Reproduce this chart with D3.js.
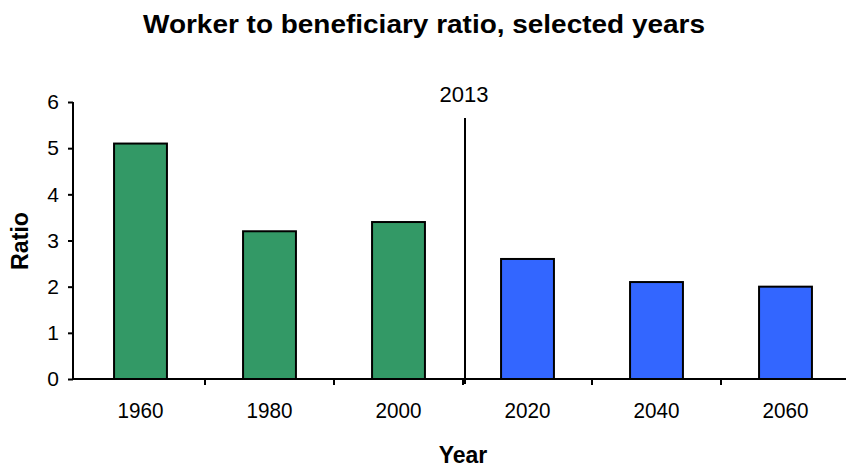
<!DOCTYPE html>
<html>
<head>
<meta charset="utf-8">
<script src="https://cdn.jsdelivr.net/npm/d3@7"></script>
<style>
    body { margin: 0; background: #fff; }
    text { font-family: "Liberation Sans", Arial, sans-serif; fill: #000; }
</style>
</head>
<body>
<script>
// Chart data
var years = ["1960", "1980", "2000", "2020", "2040", "2060"];
var ratios = [5.1, 3.2, 3.4, 2.6, 2.1, 2.0];
var projected = [false, false, false, true, true, true];
var yTicks = [0, 1, 2, 3, 4, 5, 6];
var markerLabel = "2013";

var svgWidth = 846;
var svgHeight = 470;

const svg = d3.select("body").append("svg")
    .attr("width", svgWidth)
    .attr("height", svgHeight);

// Scaling function for x values
const xScale = d3.scaleBand()
    .range([76, 850])
    .domain(years)
    .paddingInner(0.59)
    .paddingOuter(0.295);

// Scaling function for y values
const yScale = d3.scaleLinear()
    .range([379, 102])
    .domain([0, 6]);

// Title
svg.append("text")
    .attr("x", 424)
    .attr("y", 33)
    .attr("text-anchor", "middle")
    .attr("font-size", 26)
    .attr("font-weight", "bold")
    .attr("textLength", 562)
    .attr("lengthAdjust", "spacingAndGlyphs")
    .text("Worker to beneficiary ratio, selected years");

// Bars
svg.selectAll(".bar")
    .data(years.map(function(y, i) { return {year: y, value: ratios[i], proj: projected[i]}; }))
    .enter()
    .append("rect")
    .attr("class", "bar")
    .attr("x", function(d) { return xScale(d.year); })
    .attr("y", function(d) { return yScale(d.value); })
    .attr("width", xScale.bandwidth())
    .attr("height", function(d) { return yScale(0) - yScale(d.value); })
    .attr("fill", function(d) { return d.proj ? "#3366ff" : "#339966"; })
    .attr("stroke", "#000")
    .attr("stroke-width", 2);

// Y axis
const yAxis = svg.append("g")
    .attr("transform", "translate(73, 0)")
    .call(d3.axisLeft(yScale).tickValues(yTicks).tickSize(5).tickPadding(9).tickFormat(d3.format("d")));
yAxis.select(".domain").attr("stroke", "#000").attr("stroke-width", 2).attr("d", "M0,102V379");
yAxis.selectAll(".tick line").attr("stroke", "#000").attr("stroke-width", 2);
yAxis.selectAll(".tick text")
    .attr("font-size", 21)
    .attr("font-family", "Liberation Sans, Arial, sans-serif")
    .attr("fill", "#333");

// X axis
const step = xScale.step();
const gap = step - xScale.bandwidth();
const xAxis = svg.append("g")
    .attr("transform", "translate(0, 379)")
    .call(d3.axisBottom(xScale).tickSize(0).tickPadding(23));
xAxis.select(".domain").attr("stroke", "#000").attr("stroke-width", 2).attr("d", "M73,0H846");
xAxis.selectAll(".tick text")
    .attr("font-size", 22)
    .attr("font-family", "Liberation Sans, Arial, sans-serif")
    .attr("fill", "#222")
    .attr("textLength", 46)
    .attr("lengthAdjust", "spacingAndGlyphs");

// Tick marks between categories
svg.selectAll(".xtick")
    .data(years.slice(1))
    .enter()
    .append("line")
    .attr("class", "xtick")
    .attr("x1", function(d) { return xScale(d) - gap / 2; })
    .attr("x2", function(d) { return xScale(d) - gap / 2; })
    .attr("y1", 379)
    .attr("y2", 385)
    .attr("stroke", "#000")
    .attr("stroke-width", 2);

// 2013 separator
var sepX = xScale("2020") - gap / 2 + 2;
svg.append("line")
    .attr("x1", sepX)
    .attr("x2", sepX)
    .attr("y1", 118)
    .attr("y2", 384)
    .attr("stroke", "#000")
    .attr("stroke-width", 2);

svg.append("text")
    .attr("x", sepX - 1)
    .attr("y", 102)
    .attr("text-anchor", "middle")
    .attr("font-size", 22)
    .attr("fill", "#333")
    .text(markerLabel);

// Axis labels
svg.append("text")
    .attr("x", 463)
    .attr("y", 463)
    .attr("text-anchor", "middle")
    .attr("font-size", 23)
    .attr("font-weight", "bold")
    .text("Year");

svg.append("text")
    .attr("transform", "translate(28, 241) rotate(270)")
    .attr("text-anchor", "middle")
    .attr("font-size", 24)
    .attr("font-weight", "bold")
    .attr("textLength", 58)
    .attr("lengthAdjust", "spacingAndGlyphs")
    .text("Ratio");
</script>
</body>
</html>
